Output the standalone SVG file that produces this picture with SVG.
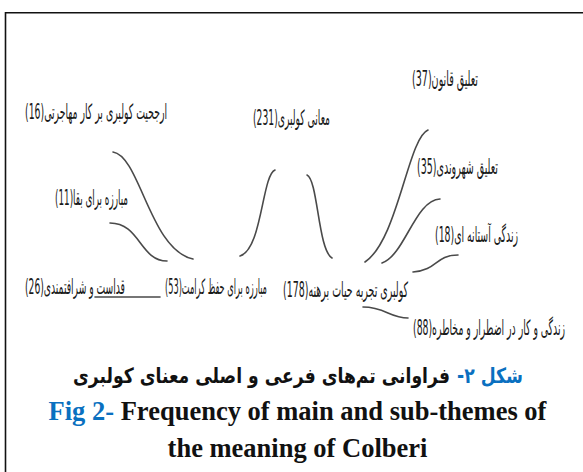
<svg xmlns="http://www.w3.org/2000/svg" width="583" height="472" viewBox="0 0 583 472">
  <style>
    .frame { fill: none; stroke: #111; stroke-width: 1.6; }
    .link { fill: none; stroke: #4a4a4a; stroke-width: 1.6; stroke-linecap: round; }
    .lbl { font-family: "DejaVu Sans Condensed", "DejaVu Sans", sans-serif; font-size: 21px; fill: #1a1a1a; text-anchor: middle; direction: rtl; }
    .cap-fa { font-family: "DejaVu Sans", sans-serif; font-weight: bold; font-size: 21px; fill: #111; text-anchor: middle; direction: rtl; }
    .cap-en { font-family: "Liberation Serif", "Times New Roman", serif; font-weight: bold; font-size: 26.5px; fill: #111; text-anchor: middle; }
    .blue { fill: #0a70c0; }
  </style>

  <!-- page frame (top and left edges) -->
  <path class="frame" d="M5.5,472 V12.7 H583"/>

  <!-- connectors -->
  <g id="connectors">
    <path class="link" d="M113,152 C140,156 150,250 193,259"/>
    <path class="link" d="M110,223 C140,223 140,261 167,261"/>
    <path class="link" d="M275,170 C262,175 262,250 240,256"/>
    <path class="link" d="M307,175 C318,180 318,250 332,258"/>
    <path class="link" d="M428,130 C408,138 398,240 365,262"/>
    <path class="link" d="M440,199 C415,200 405,255 382,263"/>
    <path class="link" d="M458,255 C435,255 438,270 413,272"/>
    <path class="link" d="M363,307 C385,307 390,318 408,318"/>
    <path class="link" d="M95,297 H160"/>
  </g>

  <!-- theme nodes: narrow labels, scaled horizontally -->
  <g id="n-priority">
    <text class="lbl" transform="translate(96,119) scale(0.55,1)" textLength="258.2" lengthAdjust="spacingAndGlyphs">ارجحیت کولبری بر کار مهاجرتی(16)</text>
  </g>
  <g id="n-meanings">
    <text class="lbl" transform="translate(291.5,125) scale(0.55,1)" textLength="140" lengthAdjust="spacingAndGlyphs">معانی کولبری(231)</text>
  </g>
  <g id="n-law">
    <text class="lbl" transform="translate(445,86) scale(0.55,1)" textLength="120" lengthAdjust="spacingAndGlyphs">تعلیق قانون(37)</text>
  </g>
  <g id="n-citizenship">
    <text class="lbl" transform="translate(457.5,174) scale(0.55,1)" textLength="147.3" lengthAdjust="spacingAndGlyphs">تعلیق شهروندی(35)</text>
  </g>
  <g id="n-survival">
    <text class="lbl" transform="translate(91.5,205) scale(0.55,1)" textLength="132.7" lengthAdjust="spacingAndGlyphs">مبارزه برای بقا(11)</text>
  </g>
  <g id="n-liminal">
    <text class="lbl" transform="translate(476.5,242) scale(0.55,1)" textLength="150.9" lengthAdjust="spacingAndGlyphs">زندگی آستانه ای(18)</text>
  </g>
  <g id="n-sanctity">
    <text class="lbl" transform="translate(75,294) scale(0.55,1)" textLength="181.8" lengthAdjust="spacingAndGlyphs">قداست و شرافتمندی(26)</text>
  </g>
  <g id="n-dignity">
    <text class="lbl" transform="translate(216,294) scale(0.55,1)" textLength="185.5" lengthAdjust="spacingAndGlyphs">مبارزه برای حفظ کرامت(53)</text>
  </g>
  <g id="n-barelife">
    <text class="lbl" transform="translate(345.5,297) scale(0.55,1)" textLength="227.3" lengthAdjust="spacingAndGlyphs">کولبری تجربه حیات برهنه(178)</text>
  </g>
  <g id="n-risk">
    <text class="lbl" transform="translate(489,335) scale(0.55,1)" textLength="276.4" lengthAdjust="spacingAndGlyphs">زندگی و کار در اضطرار و مخاطره(88)</text>
  </g>

  <!-- captions -->
  <g id="caption">
    <text class="cap-fa blue" transform="translate(490,383) scale(0.8,1)" textLength="82.5" lengthAdjust="spacingAndGlyphs">شکل ۲-</text>
    <text class="cap-fa" transform="translate(261.5,383) scale(0.8,1)" textLength="471" lengthAdjust="spacingAndGlyphs">فراوانی تم‌های فرعی و اصلی معنای کولبری</text>
    <text class="cap-en" x="297.5" y="420"><tspan class="blue">Fig 2-</tspan> Frequency of main and sub-themes of</text>
    <text class="cap-en" x="297.5" y="457">the meaning of Colberi</text>
  </g>
</svg>
